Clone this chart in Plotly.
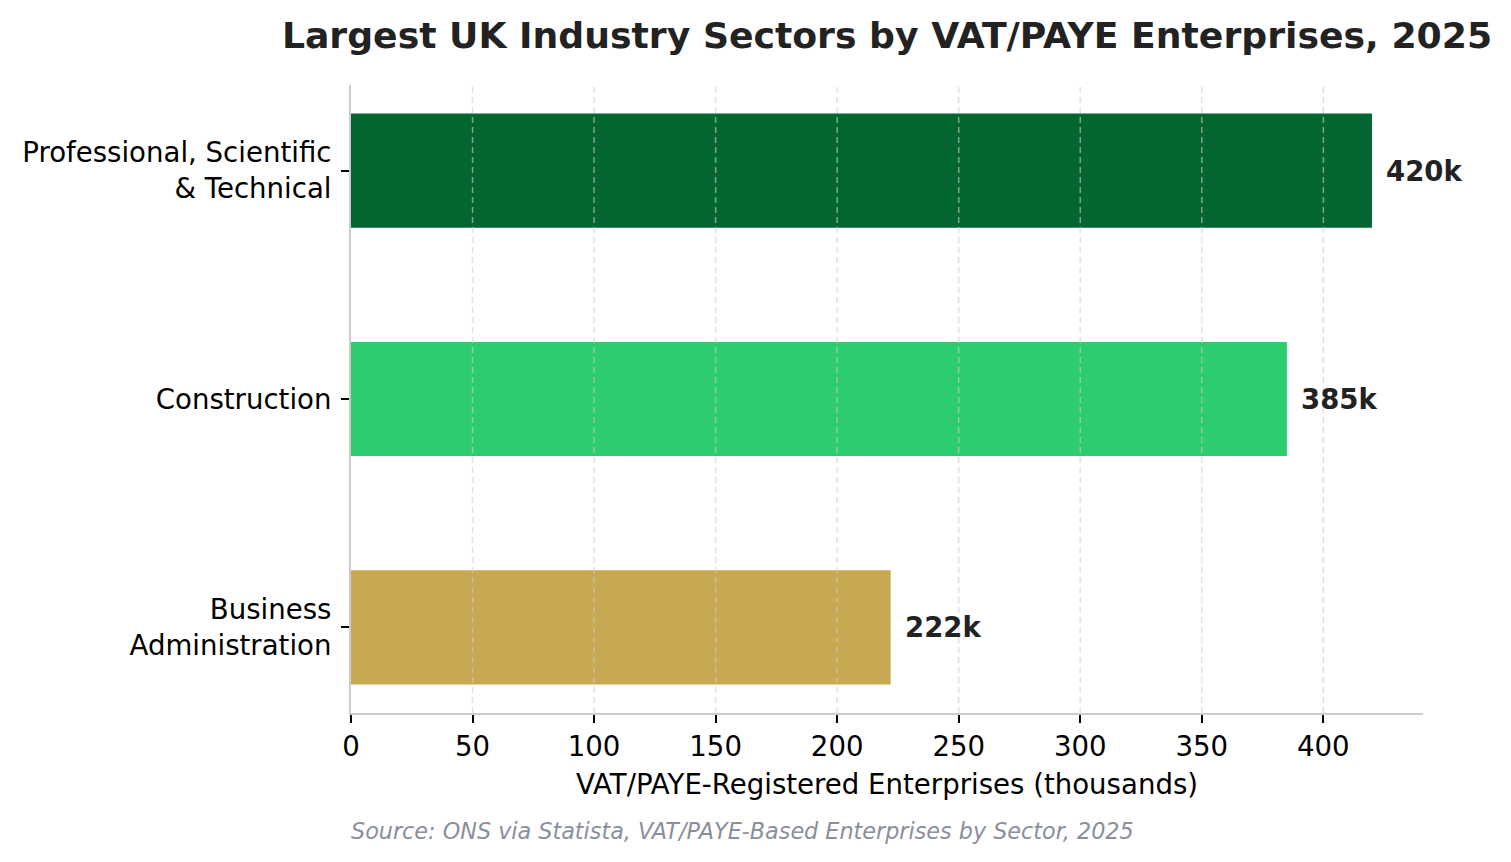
import plotly.graph_objects as go

# Data (top to bottom as displayed)
categories = ["Professional, Scientific<br>& Technical", "Construction", "Business<br>Administration"]
values = [420, 385, 222]
value_labels = ["420k", "385k", "222k"]
bar_colors = ["#036631", "#2ECC71", "#C8A850"]
x_ticks = [0, 50, 100, 150, 200, 250, 300, 350, 400]

FONT = "DejaVu Sans"
OFF = 8  # page body margin compensation

fig = go.Figure()
fig.add_trace(go.Bar(
    y=categories,
    x=values,
    orientation="h",
    width=0.5,
    marker=dict(color=bar_colors, line=dict(width=0)),
    hoverinfo="skip",
))

# value labels next to bars
for cat, v, lab in zip(categories, values, value_labels):
    fig.add_annotation(
        x=v, y=cat, text=lab, showarrow=False,
        xanchor="left", yanchor="middle", xshift=12,
        font=dict(family=FONT, size=27.5, color="#222222", weight="bold"),
    )

# dashed vertical gridlines drawn above bars
for t in x_ticks[1:]:
    fig.add_shape(
        type="line", x0=t, x1=t, xref="x", y0=0, y1=1, yref="paper",
        layer="above",
        line=dict(color="rgba(205,205,205,0.6)", width=1.5, dash="6px,4px"),
    )

fig.add_annotation(
    text="<i>Source: ONS via Statista, VAT/PAYE-Based Enterprises by Sector, 2025</i>",
    xref="paper", yref="paper", x=-0.002, y=-0.188,
    xanchor="left", yanchor="middle", showarrow=False,
    font=dict(family=FONT, size=22.3, color="#8a8f9a"),
)

fig.update_layout(
    width=1511 - OFF, height=862 - OFF,
    margin=dict(l=351 - OFF, r=88, t=85 - OFF, b=149, pad=0),
    paper_bgcolor="white", plot_bgcolor="white",
    showlegend=False,
    font=dict(family=FONT, color="#000000"),
    title=dict(
        text="<b>Largest UK Industry Sectors by VAT/PAYE Enterprises, 2025</b>",
        x=0.5, xref="paper", xanchor="center",
        y=1 - (35 - OFF) / (862 - OFF), yref="container", yanchor="middle",
        font=dict(family=FONT, size=36.2, color="#222222"),
    ),
    xaxis=dict(
        range=[0, 441], tickvals=x_ticks, ticktext=[str(t) for t in x_ticks],
        showgrid=False, zeroline=False,
        showline=True, linecolor="#cccccc", linewidth=2,
        ticks="outside", ticklen=8, tickwidth=1.5, tickcolor="#000000",
        tickfont=dict(family=FONT, size=27.6, color="#000000"),
        ticklabelstandoff=0,
        title=dict(text="VAT/PAYE-Registered Enterprises (thousands)",
                   font=dict(family=FONT, size=27.6, color="#000000"), standoff=13),
    ),
    yaxis=dict(
        categoryorder="array", categoryarray=categories[::-1],
        range=[-0.375, 2.375],
        showgrid=False, zeroline=False,
        showline=True, linecolor="#cccccc", linewidth=2,
        ticks="outside", ticklen=8, tickwidth=1.5, tickcolor="#000000",
        tickfont=dict(family=FONT, size=27.6, color="#000000"),
        ticklabelstandoff=4,
    ),
)

fig.write_html("out.html")
